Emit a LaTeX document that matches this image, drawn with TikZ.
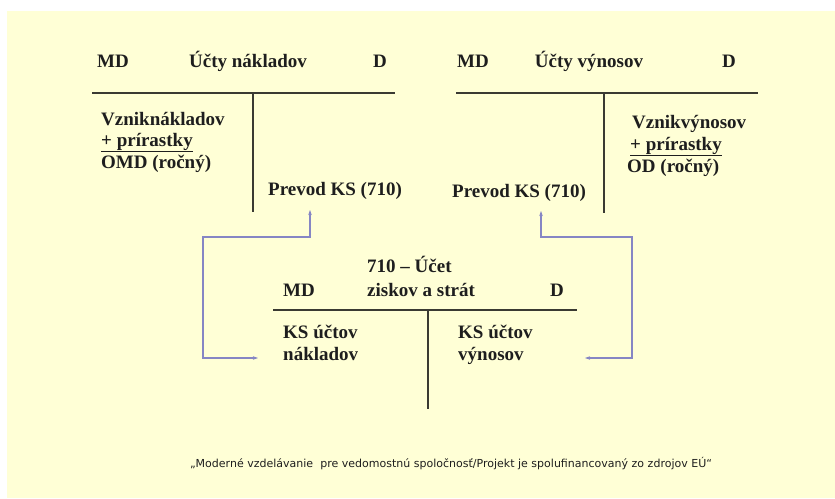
\documentclass[tikz,border=0pt]{standalone}
\usepackage{fontspec}
\setmainfont{Liberation Serif}[BoldFont={Liberation Serif Bold}]
\newfontfamily\tnr{Liberation Serif}[BoldFont={Liberation Serif Bold}]
\newfontfamily\footfont{DejaVu Sans}
\usetikzlibrary{arrows.meta}
\definecolor{bgyellow}{HTML}{FFFFD6}
\definecolor{linkcol}{HTML}{8686C4}
\definecolor{rulecol}{HTML}{3A3A32}
\definecolor{txtcol}{HTML}{1E1E1E}
\begin{document}
\begin{tikzpicture}[x=1pt,y=-1pt,
  lbl/.style={inner sep=0pt,anchor=base west,font=\tnr\fontsize{19}{22}\selectfont\bfseries,text=txtcol},
  head/.style={lbl,anchor=base},
  rule/.style={draw=rulecol,line width=1.6pt},
  link/.style={draw=linkcol,line width=1.1pt,{Stealth[length=5pt,width=3.5pt]}-{Stealth[length=5pt,width=3.5pt]}}]
\useasboundingbox (0,0) rectangle (835,498);
\fill[white] (0,0) rectangle (835,498);
\fill[bgyellow] (7,11) rectangle (835,498);
% left account
\node[lbl] (lmd) at (97,67) {MD};
\node[head] (lt) at (248,67) {Účty nákladov};
\node[lbl] (ld) at (373,67) {D};
\coordinate (lh1) at (92,93); \coordinate (lh2) at (395,93);
\coordinate (lv1) at (253,93); \coordinate (lv2) at (253,212);
\draw[rule] (lh1) -- (lh2);
\draw[rule] (lv1) -- (lv2);
\node[lbl] (l1) at (101,125) {Vzniknákladov};
\node[lbl] (l2) at (101,146) {\underline{+ prírastky}};
\node[lbl] (l3) at (101,168) {OMD (ročný)};
\node[lbl] (lp) at (268,195) {Prevod KS (710)};
% right account
\node[lbl] (rmd) at (457,67) {MD};
\node[head] (rt) at (589,67) {Účty výnosov};
\node[lbl] (rd) at (722,67) {D};
\coordinate (rh1) at (456,93); \coordinate (rh2) at (758,93);
\coordinate (rv1) at (604,93); \coordinate (rv2) at (604,213);
\draw[rule] (rh1) -- (rh2);
\draw[rule] (rv1) -- (rv2);
\node[lbl] (r1) at (632,128) {Vznikvýnosov};
\node[lbl] (r2) at (630,150) {\underline{+ prírastky}};
\node[lbl] (r3) at (627,172) {OD (ročný)};
\node[lbl] (rp) at (452,197) {Prevod KS (710)};
% result account
\node[lbl] (bt1) at (367,272) {710 – Účet};
\node[lbl] (bt2) at (367,296) {ziskov a strát};
\node[lbl] (bmd) at (283,296) {MD};
\node[lbl] (bd) at (550,296) {D};
\coordinate (bh1) at (273,310); \coordinate (bh2) at (577,310);
\coordinate (bv1) at (428,310); \coordinate (bv2) at (428,409);
\draw[rule] (bh1) -- (bh2);
\draw[rule] (bv1) -- (bv2);
\node[lbl] (b1) at (283,338) {KS účtov};
\node[lbl] (b2) at (283,360) {nákladov};
\node[lbl] (b3) at (458,338) {KS účtov};
\node[lbl] (b4) at (458,360) {výnosov};
% connectors
\coordinate (la) at (310,210); \coordinate (lb) at (258,358);
\coordinate (ra) at (541,211); \coordinate (rb) at (585,358);
\draw[link] (la) -- (310,237) -- (203,237) -- (203,358) -- (lb);
\draw[link] (ra) -- (541,237) -- (632,237) -- (632,358) -- (rb);
% footer
\node[inner sep=0pt,anchor=base,text=txtcol] (foot) at (451,467) {\resizebox{522pt}{!}{\footfont „Moderné vzdelávanie \ pre vedomostnú spoločnosť/Projekt je spolufinancovaný zo zdrojov EÚ“}};
\end{tikzpicture}
\end{document}
